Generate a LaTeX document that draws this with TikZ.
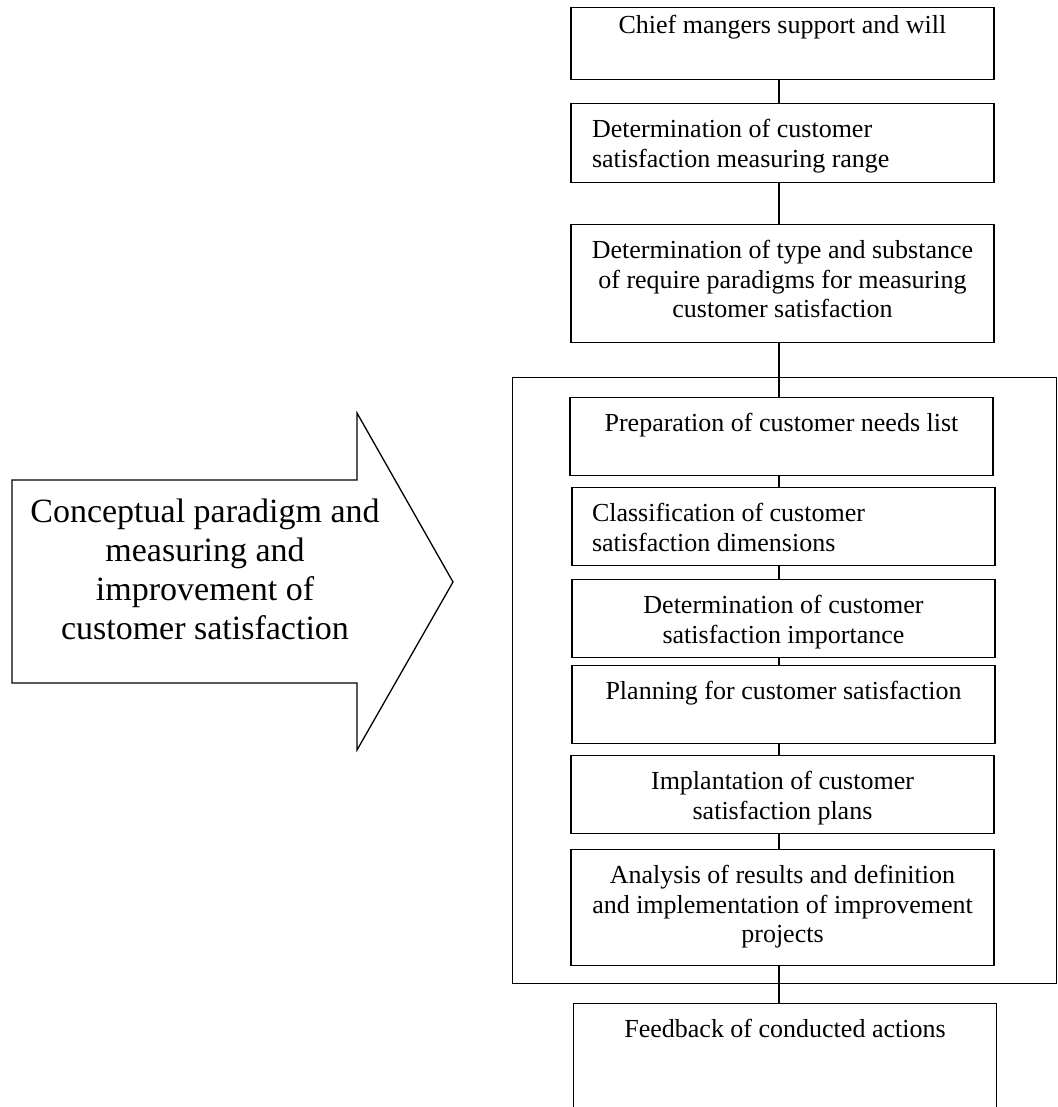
\documentclass[tikz,border=0pt]{standalone}
\usepackage{fontspec}
\setmainfont{Liberation Serif}
\usetikzlibrary{positioning}

% text set at the top of a box of fixed height
\newcommand{\stepfill}[3][17pt]{\vbox to #2{\vskip\dimexpr#1-10pt\relax\noindent\rule{0pt}{10pt}#3\par\vfil}}

\begin{document}
\begin{tikzpicture}[x=0.5pt,y=-0.5pt,
  stepbox/.style={draw,line width=0.65pt,anchor=north,text width=193.5pt,inner xsep=9pt,inner ysep=0pt,align=flush center,font=\fontsize{13}{14.8}\selectfont},
  flowline/.style={line width=0.65pt}]
\useasboundingbox (0,0) rectangle (1057,1107);
\clip (0,0) rectangle (1057,1107);

\coordinate (spine) at (779,0);

\node[stepbox] (chief) at (782.5,7) {\stepfill[13pt]{36pt}{Chief mangers support and will}};
\node[stepbox,align=flush left] (range) at (782.5,103) {\stepfill{39.5pt}{\hspace*{1.5pt}Determination of customer\\ \hspace*{1.5pt}satisfaction measuring range}};
\node[stepbox] (kind) at (782.5,224) {\stepfill{59pt}{Determination of type and substance\\ of require paradigms for measuring\\ customer satisfaction}};

\node[draw,line width=0.65pt,anchor=north west,minimum width=272pt,minimum height=303pt,inner sep=0pt] (stage) at (512,377) {};

\node[stepbox] (needs) at (781.5,397) {\stepfill{39pt}{Preparation of customer needs list}};
\node[stepbox,align=flush left] (dims) at (783.5,487) {\stepfill{39pt}{\hspace*{1pt}Classification of customer\\ \hspace*{1pt}satisfaction dimensions}};
\node[stepbox] (weight) at (783.5,579) {\stepfill{39pt}{Determination of customer\\ satisfaction importance}};
\node[stepbox] (plan) at (783.5,665) {\stepfill{39pt}{Planning for customer satisfaction}};
\node[stepbox] (implant) at (782.5,755) {\stepfill{39pt}{Implantation of customer\\ satisfaction plans}};
\node[stepbox] (review) at (782.5,849) {\stepfill{58pt}{Analysis of results and definition\\ and implementation of improvement\\ projects}};
\node[stepbox] (feedback) at (785,1003) {\stepfill{64pt}{Feedback of conducted actions}};

\foreach \a/\b in {chief/range,range/kind,kind/needs,needs/dims,dims/weight,weight/plan,plan/implant,implant/review,review/feedback}
  \draw[flowline] (\a.south -| spine) -- (\b.north -| spine);

% big arrow on the left
\draw[line width=0.65pt] (12,480) -- (357,480) -- (357,413) -- (453,582) -- (357,750) -- (357,683) -- (12,683) -- cycle;
\node[align=center,inner sep=0pt,font=\fontsize{17}{19.5}\selectfont] (concept) at (205,569) {Conceptual paradigm and\\ measuring and\\ improvement of\\ customer satisfaction};
\end{tikzpicture}
\end{document}
